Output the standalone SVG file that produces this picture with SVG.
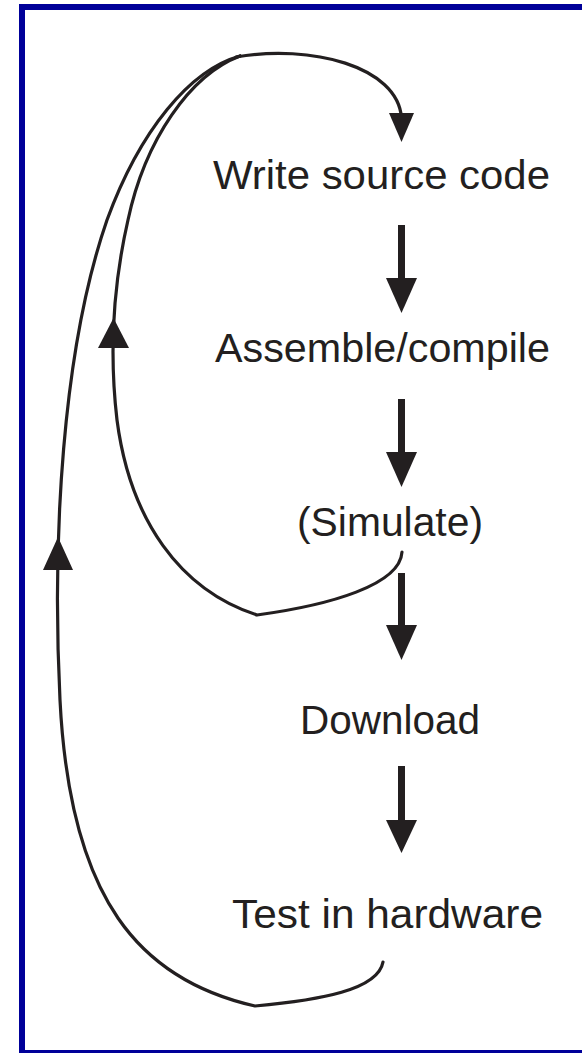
<svg xmlns="http://www.w3.org/2000/svg" width="582" height="1053" viewBox="0 0 582 1053">
<style>
.lbl{font-family:"Liberation Sans",Arial,sans-serif;font-size:41px;fill:#231f20}
.ln{fill:none;stroke:#231f20;stroke-width:3.2;stroke-linecap:round}
.stem{stroke:#231f20;stroke-width:7}
.head{fill:#231f20}
</style>
<rect x="0" y="0" width="582" height="1053" fill="#ffffff"/>
<rect x="22" y="7" width="600" height="1046" fill="none" stroke="#000099" stroke-width="6"/>
<g id="n1"><text class="lbl" x="213" y="189" textLength="337" lengthAdjust="spacingAndGlyphs">Write source code</text></g>
<g id="n2"><text class="lbl" x="215" y="362" textLength="335" lengthAdjust="spacingAndGlyphs">Assemble/compile</text></g>
<g id="n3"><text class="lbl" x="297" y="536" textLength="186" lengthAdjust="spacingAndGlyphs">(Simulate)</text></g>
<g id="n4"><text class="lbl" x="300" y="734" textLength="180" lengthAdjust="spacingAndGlyphs">Download</text></g>
<g id="n5"><text class="lbl" x="232" y="928" textLength="311" lengthAdjust="spacingAndGlyphs">Test in hardware</text></g>
<g id="connectors">
<line class="stem" x1="401.5" y1="225" x2="401.5" y2="282"/>
<polygon class="head" points="386,278 417,278 401.5,313"/>
<line class="stem" x1="401.5" y1="399" x2="401.5" y2="456"/>
<polygon class="head" points="386,452 417,452 401.5,487"/>
<line class="stem" x1="401.5" y1="573" x2="401.5" y2="629"/>
<polygon class="head" points="386,625 417,625 401.5,660"/>
<line class="stem" x1="401.5" y1="766" x2="401.5" y2="824"/>
<polygon class="head" points="386,820 417,820 401.5,853"/>
<path class="ln" d="M 402 552 C 400 585, 330 605, 257 615 C 180 590, 130 520, 117 420 C 110 360, 112 290, 128 220 C 145 140, 190 75, 240 56"/>
<path class="ln" d="M 383 962 C 378 990, 320 1000, 255 1006 C 140 980, 70 900, 60 700 C 52 540, 62 350, 107 220 C 140 130, 190 70, 240 56"/>
<path class="ln" d="M 236 57 C 310 44, 398 66, 401.5 118"/>
<polygon class="head" points="389,113 414,113 401.5,142"/>
<polygon class="head" points="113.5,318 98,348 129,348"/>
<polygon class="head" points="58,537 43,570 73,570"/>
</g>
</svg>
